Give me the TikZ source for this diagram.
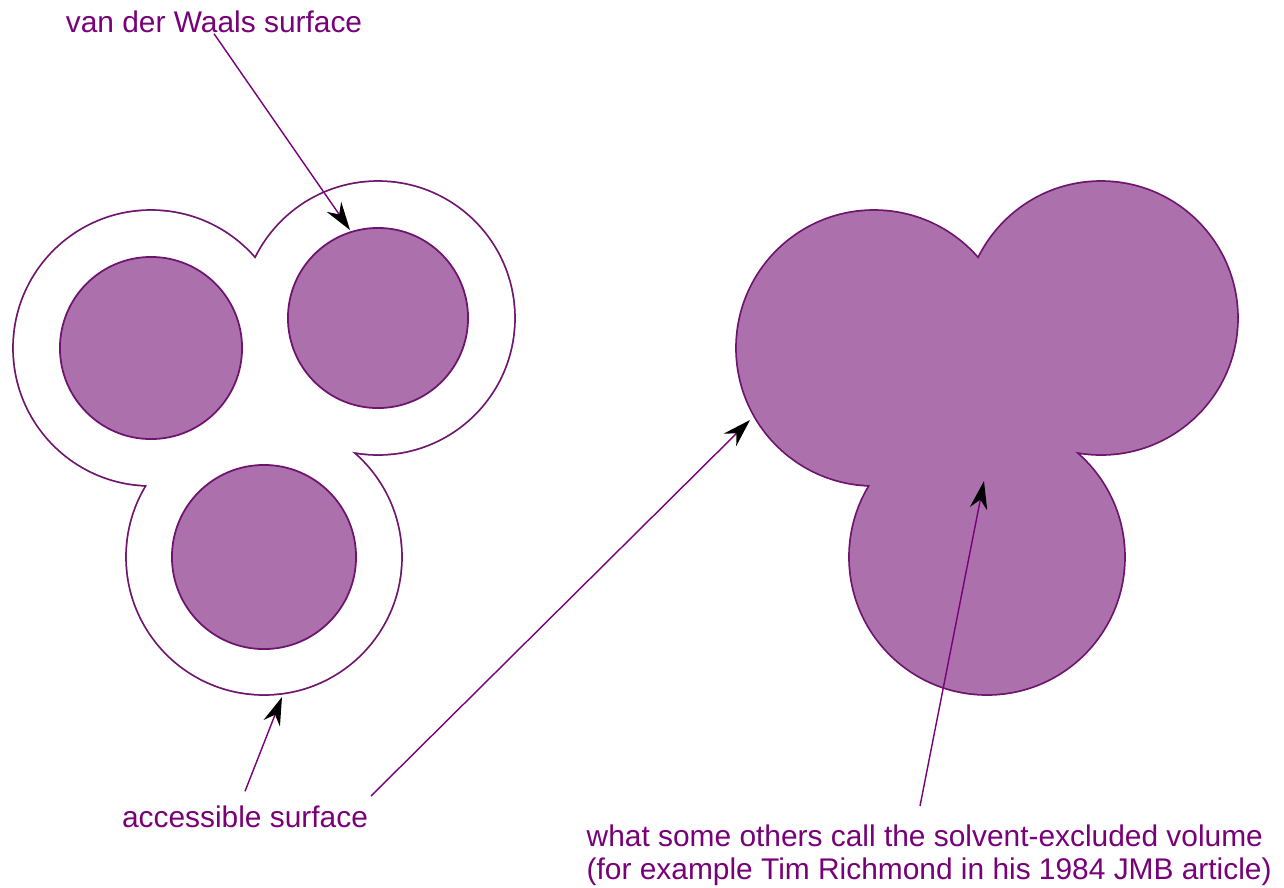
\documentclass[tikz,border=0pt]{standalone}
\usepackage{fontspec}
\setmainfont{Liberation Sans}
\usetikzlibrary{positioning,arrows.meta}
\usepackage{xcolor}
\definecolor{plum}{RGB}{120,0,120}
\definecolor{plumline}{RGB}{110,20,110}
\definecolor{plumfill}{RGB}{172,112,172}

\begin{document}
\begin{tikzpicture}[x=0.01cm,y=-0.01cm,font=\fontsize{8.5}{9.4}\selectfont\color{plum}]
\tikzset{
  lbl/.style={inner sep=0pt,text=plum},
  vdw/.style={draw=plumline,fill=plumfill,line width=0.5pt},
  ring/.style={draw=plumline,line width=1pt},
  PT/.style={-{Stealth[black,length=8pt,width=5pt]},plum,line width=0.4pt},
}
\useasboundingbox (0,0) rectangle (1284,887);

% accessible surface (left)
\draw[ring] (151,348) circle[radius=1.37cm] (378,318) circle[radius=1.36cm] (264,557) circle[radius=1.37cm];
\fill[white] (151,348) circle[radius=1.37cm] (378,318) circle[radius=1.36cm] (264,557) circle[radius=1.37cm];
\fill[white] (151,348)--(378,318)--(264,557)--cycle;

% van der Waals atoms
\path[vdw] (151,348) circle[radius=0.91cm];
\path[vdw] (378,318) circle[radius=0.90cm];
\path[vdw] (264,557) circle[radius=0.92cm];

% solvent-excluded volume (right)
\draw[ring] (874,348) circle[radius=1.37cm] (1101,318) circle[radius=1.36cm] (987,557) circle[radius=1.37cm];
\fill[plumfill] (874,348) circle[radius=1.37cm] (1101,318) circle[radius=1.36cm] (987,557) circle[radius=1.37cm];
\fill[plumfill] (874,348)--(1101,318)--(987,557)--cycle;

% labels
\node[lbl](vdwlbl) at (214,22){van der Waals surface};
\node[lbl](acclbl) at (245,817){accessible surface};
\node[lbl,anchor=north west,align=left](seslbl) at (586,824){what some others call the solvent-excluded volume\\(for example Tim Richmond in his 1984 JMB article)};

\coordinate (vdwtip) at (350,230);
\coordinate (acctip) at (282,697);
\coordinate (sestip) at (750,420);
\coordinate (voltip) at (984,481);
\coordinate (accfoot) at (371,796);
\coordinate (sesfoot) at (920,806);

\draw[PT](vdwlbl.south)--(vdwtip);
\draw[PT](acclbl.north)++(0,-14)--(acctip);
\draw[PT](accfoot)--(sestip);
\draw[PT](sesfoot)--(voltip);

\end{tikzpicture}
\end{document}
